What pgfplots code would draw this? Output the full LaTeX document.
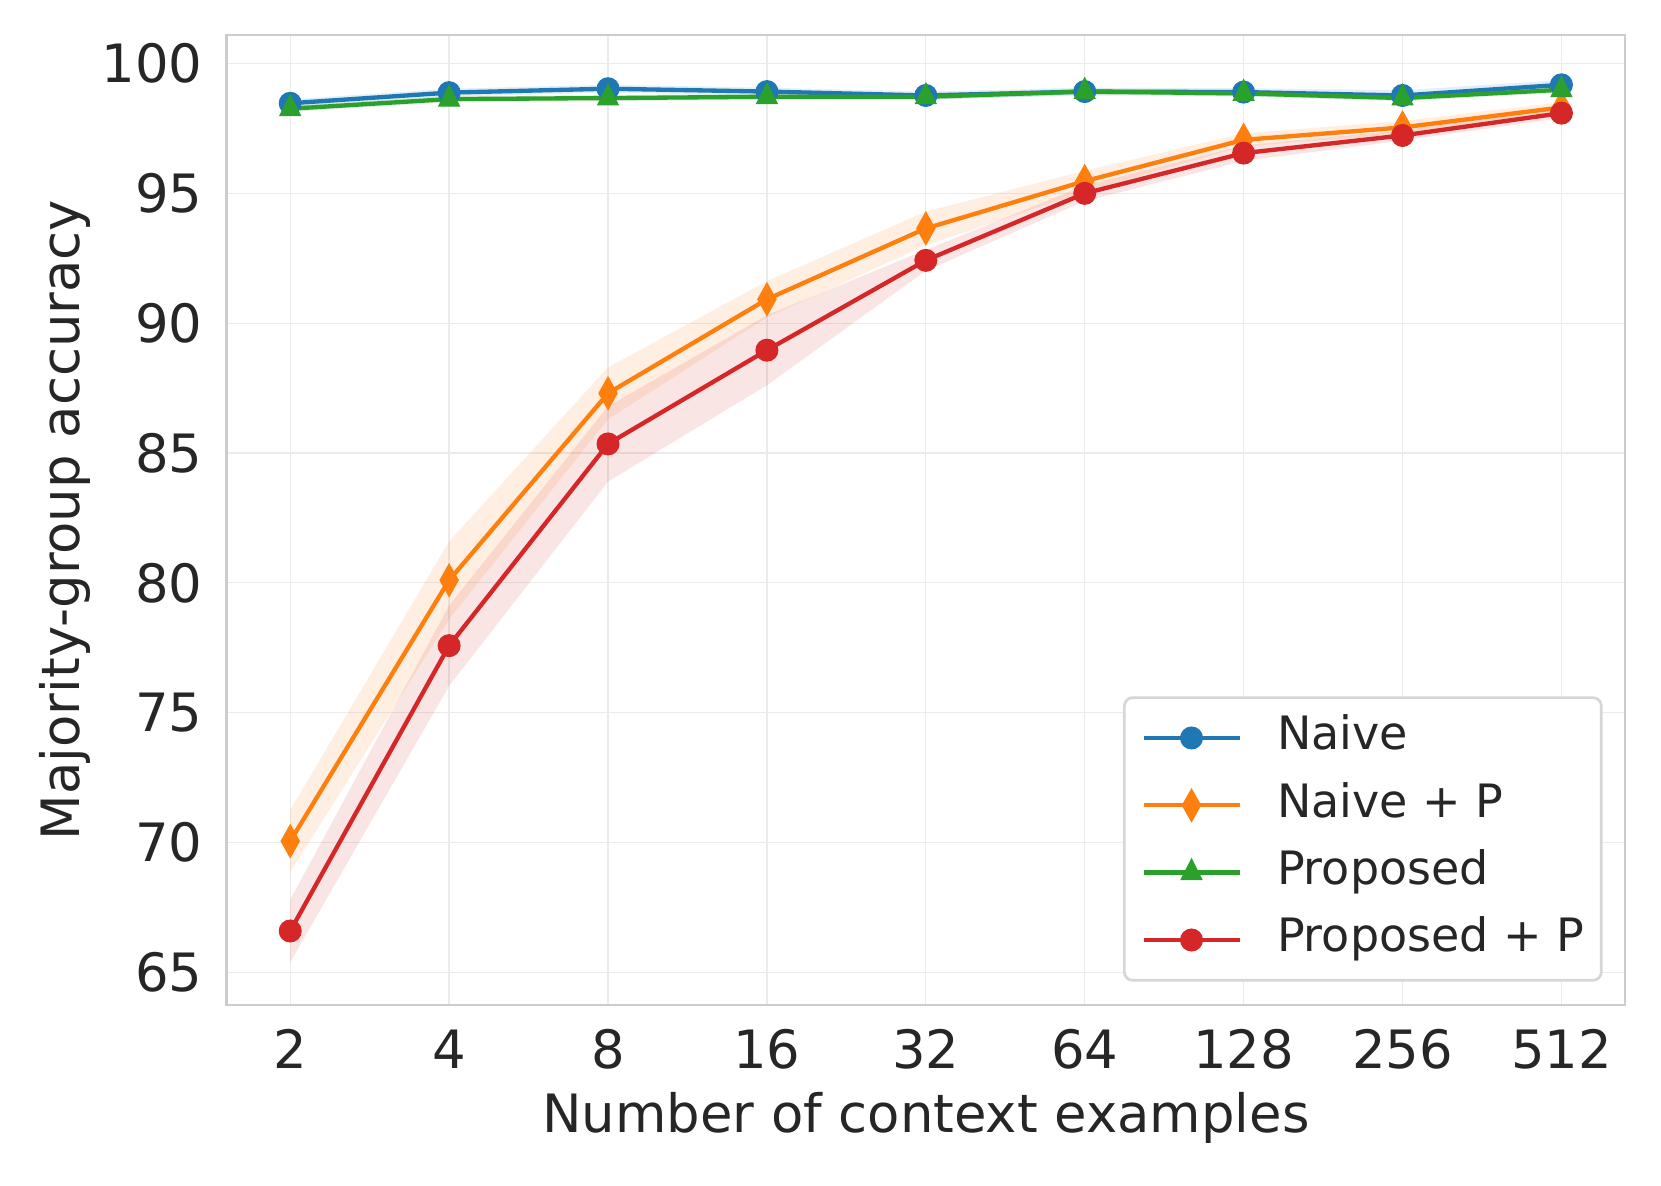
\documentclass[border=0pt]{standalone}
\usepackage{pgfplots}
\pgfplotsset{compat=1.18}
\usepackage{pgfplotstable}
\usepgfplotslibrary{fillbetween}
\usepackage{fontspec}
\setmainfont{DejaVu Sans}
\definecolor{cblue}{HTML}{1F77B4}
\definecolor{corange}{HTML}{FF7F0E}
\definecolor{cgreen}{HTML}{2CA02C}
\definecolor{cred}{HTML}{D62728}
\definecolor{txt}{HTML}{262626}
\definecolor{spine}{HTML}{CCCCCC}
\definecolor{gridc}{HTML}{EBEBEB}
\definecolor{legc}{HTML}{D6D6D6}

\pgfplotstableread{
x m lo hi
0 98.47 98.32 98.62
1 98.88 98.73 99.03
2 99.03 98.88 99.18
3 98.92 98.77 99.07
4 98.77 98.62 98.92
5 98.92 98.77 99.07
6 98.90 98.75 99.05
7 98.77 98.57 98.97
8 99.18 99.00 99.36
}\naive

\pgfplotstableread{
x m lo hi
0 70.05 68.85 71.25
1 80.10 78.60 81.60
2 87.30 86.30 88.30
3 90.92 90.22 91.62
4 93.65 93.00 94.30
5 95.47 95.07 95.87
6 97.06 96.81 97.31
7 97.54 97.29 97.79
8 98.31 98.11 98.51
}\naivep

\pgfplotstableread{
x m lo hi
0 98.26 98.14 98.38
1 98.63 98.51 98.75
2 98.67 98.55 98.79
3 98.72 98.60 98.84
4 98.72 98.60 98.84
5 98.92 98.80 99.04
6 98.85 98.73 98.97
7 98.67 98.55 98.79
8 98.99 98.87 99.11
}\proposed

\pgfplotstableread{
x m lo hi
0 66.59 65.39 67.79
1 77.58 76.03 79.13
2 85.35 83.90 86.80
3 88.96 87.61 90.31
4 92.42 92.02 92.82
5 95.00 94.70 95.30
6 96.55 96.25 96.85
7 97.23 97.03 97.43
8 98.09 97.89 98.29
}\proposedp

\begin{document}
\begin{tikzpicture}
\begin{axis}[
  at={(0pt,0pt)}, anchor=south west,
  scale only axis, width=419.5pt, height=291pt,
  xmin=-0.4, xmax=8.4, ymin=63.74, ymax=101.1,
  xtick={0,...,8}, xticklabels={2,4,8,16,32,64,128,256,512},
  ytick={65,70,...,100},
  grid=major, major grid style={gridc, line width=0.4pt},
  axis line style={spine, line width=0.8pt},
  major tick length=0pt,
  tick label style={font=\fontsize{15.85}{19}\selectfont, text=txt},
  /pgf/number format/assume math mode=true,
  xticklabel style={anchor=north, inner sep=0pt, yshift=-7.2pt},
  yticklabel style={anchor=east, inner sep=0pt, xshift=-7.1pt},
  xlabel={Number of context examples},
  ylabel={Majority-group accuracy},
  every axis x label/.style={at={([yshift=-38.4pt]axis description cs:0.5,0)}, anchor=base, font=\fontsize{15.85}{19}\selectfont, text=txt},
  every axis y label/.style={at={([xshift=-44pt]axis description cs:0,0.5)}, rotate=90, anchor=base, font=\fontsize{15.85}{19}\selectfont, text=txt},
  legend style={at={([xshift=-6.7pt,yshift=7pt]axis description cs:1,0)}, anchor=south east,
    draw=legc, line width=0.8pt, rounded corners=2.5pt, fill=white,
    font=\fontsize{13.8}{17}\selectfont, text=txt,
    inner xsep=5.1pt, inner ysep=5.6pt, row sep=7.2pt, column sep=10.6pt,
    nodes={inner sep=0pt, text height=10.1pt, text depth=2.9pt}},
  legend cell align=left,
  legend image code/.code={\draw[mark repeat=2,mark phase=2,#1] plot coordinates {(0pt,0pt) (14.4pt,0pt) (28.8pt,0pt)};},
]
% bands
\addplot[name path=nh, draw=none, forget plot] table[x=x,y=hi]{\naive};
\addplot[name path=nl, draw=none, forget plot] table[x=x,y=lo]{\naive};
\addplot[cblue, fill opacity=0.12, draw=none, forget plot] fill between[of=nh and nl];
\addplot[name path=oh, draw=none, forget plot] table[x=x,y=hi]{\naivep};
\addplot[name path=ol, draw=none, forget plot] table[x=x,y=lo]{\naivep};
\addplot[corange, fill opacity=0.12, draw=none, forget plot] fill between[of=oh and ol];
\addplot[name path=gh, draw=none, forget plot] table[x=x,y=hi]{\proposed};
\addplot[name path=gl, draw=none, forget plot] table[x=x,y=lo]{\proposed};
\addplot[cgreen, fill opacity=0.12, draw=none, forget plot] fill between[of=gh and gl];
\addplot[name path=rh, draw=none, forget plot] table[x=x,y=hi]{\proposedp};
\addplot[name path=rl, draw=none, forget plot] table[x=x,y=lo]{\proposedp};
\addplot[cred, fill opacity=0.12, draw=none, forget plot] fill between[of=rh and rl];
% lines
\addplot[cblue, line width=1.3pt, mark=*, mark size=3.3pt, mark options={solid, fill=cblue, draw=cblue, line width=0.3pt}] table[x=x,y=m]{\naive};
\addlegendentry{Naive}
\addplot[corange, line width=1.3pt, mark=diamond*, mark size=4.9pt, mark options={solid, xscale=0.75, fill=corange, draw=corange, line width=0.3pt}] table[x=x,y=m]{\naivep};
\addlegendentry{Naive + P}
\addplot[cgreen, line width=1.3pt, mark=triangle*, mark size=3.6pt, mark options={solid, yscale=1.15, fill=cgreen, draw=cgreen, line width=0.3pt}] table[x=x,y=m]{\proposed};
\addlegendentry{Proposed}
\addplot[cred, line width=1.3pt, mark=*, mark size=3.3pt, mark options={solid, fill=cred, draw=cred, line width=0.3pt}] table[x=x,y=m]{\proposedp};
\addlegendentry{Proposed + P}
\end{axis}
\pgfresetboundingbox
\path[use as bounding box] (-68pt,-54.3pt) rectangle (430.3pt,301.5pt);
\end{tikzpicture}
\end{document}
